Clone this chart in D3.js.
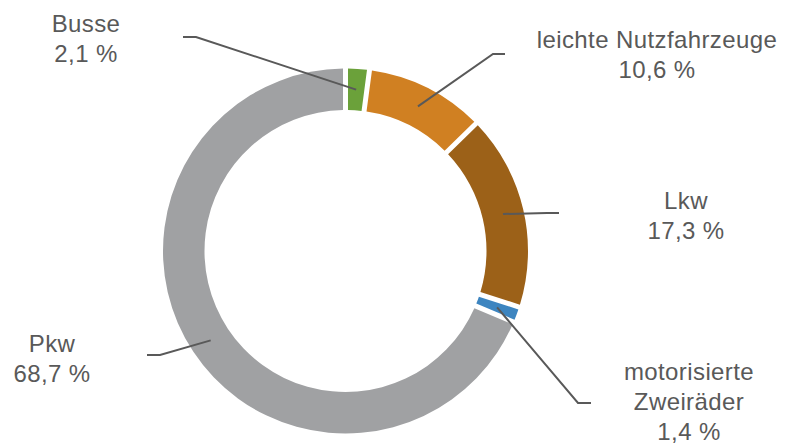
<!DOCTYPE html>
<meta charset="utf-8">
<script src="https://d3js.org/d3.v7.min.js"></script>
<style>
  body { margin: 0; background: #fff; }
  text { font-family: "Liberation Sans", Arial, sans-serif; }
</style>
<div id="my_dataviz"></div>
<script>

// data
var categories = ["Busse", "leichte Nutzfahrzeuge", "Lkw", "motorisierte Zweiräder", "Pkw"];
var labelLines = [["Busse"], ["leichte Nutzfahrzeuge"], ["Lkw"], ["motorisierte", "Zweiräder"], ["Pkw"]];
var shares = [2.1, 10.6, 17.3, 1.4, 68.7];
var colors = ["#6ba13a", "#d08022", "#9c6118", "#3d85c0", "#a0a1a3"];

// label placement: text centre + first baseline, leader elbow and end
var labelLayout = [
  {x: 86,  y: 32,  elbow: [196, 37],  end: [183, 37]},
  {x: 657, y: 48,  elbow: [493, 54],  end: [505, 54]},
  {x: 686, y: 209, elbow: [547, 213], end: [559, 213]},
  {x: 689, y: 380, elbow: [578, 403], end: [591, 403]},
  {x: 52,  y: 352, elbow: [160, 355], end: [147, 355]}
];

var width = 790, height = 443;
var cx = 345.5, cy = 251, outerR = 182.5, innerR = 141;

var svg = d3.select("#my_dataviz")
  .append("svg")
    .attr("width", width)
    .attr("height", height);

var data = categories.map(function(c, i) { return {name: c, value: shares[i], i: i}; });

var pie = d3.pie()
  .sort(null)
  .value(function(d) { return d.value; });

var padR = Math.sqrt(innerR * innerR + outerR * outerR);
var arc = d3.arc()
  .innerRadius(innerR)
  .outerRadius(outerR)
  .padRadius(padR)
  .padAngle(5 / padR);

var g = svg.append("g")
  .attr("transform", "translate(" + cx + "," + cy + ")");

var arcs = pie(data);

g.selectAll("path")
  .data(arcs)
  .enter()
  .append("path")
    .attr("d", arc)
    .attr("fill", function(d) { return colors[d.data.i]; });

// leader lines
svg.selectAll(".leader")
  .data(arcs)
  .enter()
  .append("polyline")
    .attr("class", "leader")
    .attr("fill", "none")
    .attr("stroke", "#595959")
    .attr("stroke-width", 2)
    .attr("points", function(d) {
      var c = arc.centroid(d);
      var L = labelLayout[d.data.i];
      return [[c[0] + cx, c[1] + cy], L.elbow, L.end].map(function(p) { return p.join(","); }).join(" ");
    });

// labels
var fmt = function(v) { return String(v.toFixed(1)).replace(".", ",") + " %"; };

var labels = svg.selectAll(".lbl")
  .data(arcs)
  .enter()
  .append("text")
    .attr("class", "lbl")
    .attr("text-anchor", "middle")
    .attr("fill", "#595959")
    .style("font-size", "24px")
    .style("letter-spacing", "0.4px");

labels.each(function(d) {
  var L = labelLayout[d.data.i];
  var lines = labelLines[d.data.i].concat([fmt(d.data.value)]);
  var t = d3.select(this);
  lines.forEach(function(s, k) {
    t.append("tspan")
      .attr("x", L.x)
      .attr("y", L.y + k * 30)
      .text(s);
  });
});

</script>
